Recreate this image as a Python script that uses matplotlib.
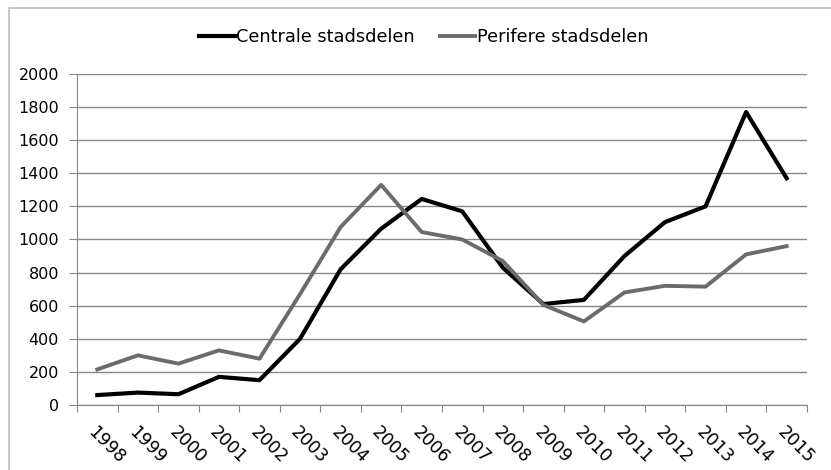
import numpy as np
import matplotlib.pyplot as plt
from matplotlib.patches import Rectangle

# Jaren en waarden per stadsdeel
jaren = ["1998", "1999", "2000", "2001", "2002", "2003", "2004", "2005", "2006",
         "2007", "2008", "2009", "2010", "2011", "2012", "2013", "2014", "2015"]
centrale = [60, 75, 65, 170, 150, 400, 820, 1065, 1245, 1170, 830, 610, 635,
            900, 1105, 1200, 1770, 1370]
perifere = [215, 300, 250, 330, 280, 670, 1075, 1330, 1045, 1000, 870, 605, 505,
            680, 720, 715, 910, 960]

plt.rcParams['font.family'] = ['DejaVu Sans']

fig = plt.figure(figsize=(8.31, 4.70), dpi=100)
ax = fig.add_axes([0.0927, 0.1383, 0.8783, 0.7043])

x = np.arange(len(jaren))
ax.plot(x, centrale, color='black', lw=3.0, label='Centrale stadsdelen', zorder=3)
ax.plot(x, perifere, color='#6b6b6b', lw=2.8, label='Perifere stadsdelen', zorder=3)

ax.set_xlim(-0.5, len(jaren) - 0.5)
ax.set_ylim(0, 2000)
ax.set_yticks(np.arange(0, 2001, 200))
ax.yaxis.grid(True, color='#878787', lw=1)
ax.set_axisbelow(True)

# streepjes tussen de jaren, labels in het midden
ax.set_xticks(np.arange(-0.5, len(jaren), 1))
ax.set_xticklabels([])
ax.set_xticks(x, minor=True)
ax.set_xticklabels(jaren, minor=True, rotation=-45, ha='left', va='top',
                   rotation_mode='anchor', fontsize=12.5)
ax.tick_params(axis='x', which='major', length=5, color='#878787')
ax.tick_params(axis='x', which='minor', length=0, pad=13)
ax.tick_params(axis='y', length=6, color='#878787', labelsize=11.5, pad=7)

for s in ['top', 'right']:
    ax.spines[s].set_visible(False)
for s in ['left', 'bottom']:
    ax.spines[s].set_color('#878787')

fig.legend(loc='upper center', bbox_to_anchor=(0.51, 0.975), ncol=2, frameon=False,
           fontsize=12.8, handlelength=2.0, handletextpad=0.1, columnspacing=1.4)

# rand rond de grafiek
fig.patches.append(Rectangle((0.011, -0.01), 0.99, 0.993, transform=fig.transFigure,
                             fill=False, edgecolor='#bdbdbd', lw=1.2))

fig.savefig('out.png', dpi=100)
